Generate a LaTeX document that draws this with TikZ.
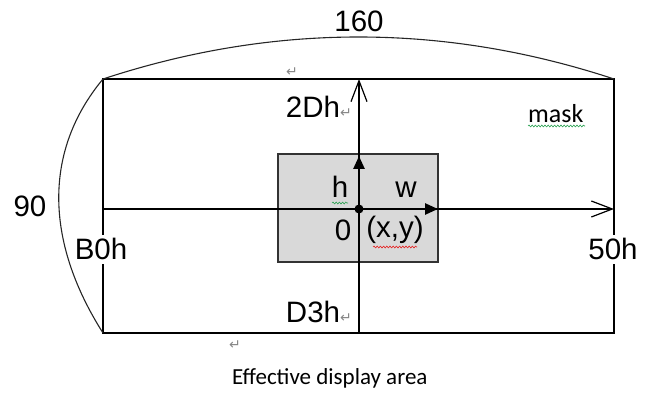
\documentclass[tikz,border=0pt]{standalone}
\usepackage{fontspec}
\setmainfont{Liberation Sans}
\newfontfamily\calib{Carlito}
\newfontfamily\djv{DejaVu Sans}
\usetikzlibrary{arrows.meta,decorations.pathmorphing}
\definecolor{retgray}{RGB}{135,135,135}
\definecolor{boxgray}{RGB}{217,217,217}
\definecolor{spellgreen}{RGB}{40,160,80}
\definecolor{spellred}{RGB}{230,30,30}
\newcommand\retmk{{\djv\fontsize{14}{14}\selectfont\color{retgray}↵}}
\begin{document}
\begin{tikzpicture}[x=1pt,y=-1pt,
  lbl/.style={font=\fontsize{29.5}{34}\selectfont, inner sep=0pt, anchor=base},
  wlbl/.style={lbl, fill=white, inner sep=4pt},
  edge/.style={line width=1.3pt, black},
  openarrow/.style={edge, -{Straight Barb[length=21pt,width=16pt,line width=1.2pt]}},
  thickarrow/.style={line width=2.6pt, -{Triangle[length=13pt,width=11pt]}},
  arc/.style={line width=1.1pt, black!85},
  wavy/.style={decorate, decoration={snake, amplitude=0.9pt, segment length=3.2pt}, line width=0.6pt}]
\useasboundingbox (0,0) rectangle (653,395);
% frame corners and axis points
\coordinate (TL) at (103,79);
\coordinate (TR) at (614,79);
\coordinate (BL) at (103,333);
\coordinate (BR) at (614,333);
\coordinate (Ttop) at (359,79);
\coordinate (Bbot) at (359,333);
\coordinate (Lmid) at (103,209);
\coordinate (Rmid) at (614,209);
\coordinate (O) at (359,209);
\coordinate (hTip) at (359,156);
\coordinate (wTip) at (438,209);
% grey box
\draw[fill=boxgray, draw=black!80, line width=1.2pt] (278,154) rectangle (438,262);
% frame
\draw[edge] (TL) rectangle (BR);
% axes
\draw[openarrow] (Bbot) -- (Ttop);
\draw[openarrow] (Lmid) -- (Rmid);
% arcs
\draw[arc] (TL) .. controls (273,23) and (444,23) .. (TR);
\draw[arc] (TL) .. controls (44,150) and (44,240) .. (BL);
% inner arrows
\draw[thickarrow] (O) -- (hTip);
\draw[thickarrow] (O) -- (wTip);
\fill (O) circle (4.5pt);
% labels
\node[lbl] (l160) at (359,32) {160};
\node[lbl] (l90) at (30,217) {90};
\node[wlbl] (lB0h) at (101,260) {B0h};
\node[wlbl] (l50h) at (613,260) {50h};
\node[lbl, anchor=base east] (l2Dh) at (352,118) {2Dh\retmk};
\node[lbl, anchor=base east] (lD3h) at (352,323) {D3h\retmk};
\node[lbl] (lh) at (340,198) {h};
\node[lbl] (lw) at (406,198) {w};
\node[lbl] (l0) at (343,241) {0};
\node[lbl] (lxy) at (395,238) {(x,y)};
\node[inner sep=0pt, anchor=base west, font=\calib\fontsize{26}{30}\selectfont] (lmask) at (528,123) {mask};
\node[inner sep=0pt, anchor=base west, font=\calib\fontsize{23}{27}\selectfont] (lead) at (232,384) {Effective display area};
\node[inner sep=0pt] (r1) at (292,72) {\retmk};
\node[inner sep=0pt] (r2) at (235,345) {\retmk};
% spell-check underlines
\draw[wavy, spellgreen] (332,203) -- (348,203);
\draw[wavy, spellgreen] (528,126) -- (585,126);
\draw[wavy, spellred] (373,247) -- (417,247);
\end{tikzpicture}
\end{document}
